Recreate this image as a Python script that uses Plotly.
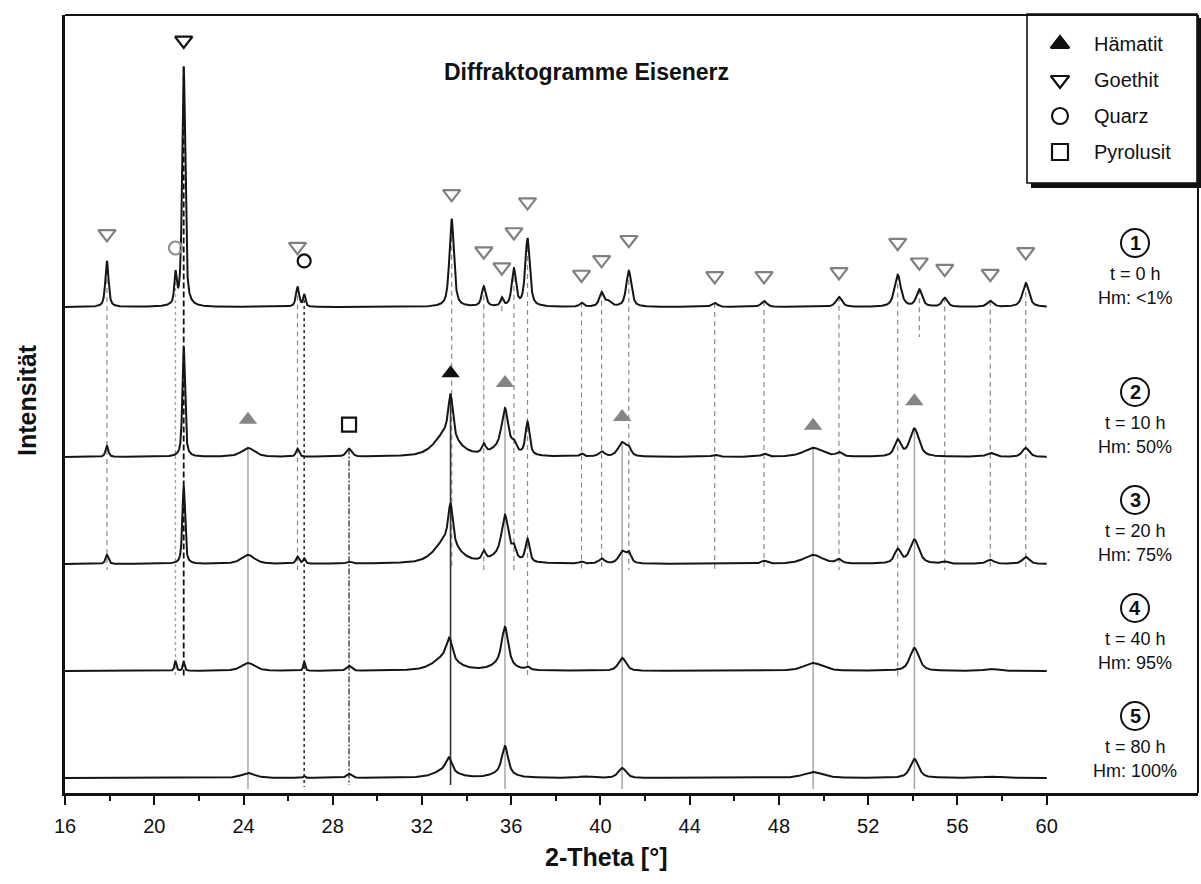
import numpy as np
import plotly.graph_objects as go

# ---------------------------------------------------------------------------
# Reflection lists of the five diffractograms: position (°2θ), height, FWHM (°)
# ---------------------------------------------------------------------------
P1_POS = [17.88, 20.95, 21.32, 26.42, 26.72, 33.33, 34.77, 35.58, 36.12, 36.73, 39.15,
          40.05, 40.35, 41.27, 45.12, 47.33, 50.69, 53.32, 54.29, 55.43, 57.47, 59.06]
P1_INT = [46, 30, 240, 20, 12, 88, 20, 8, 37, 68, 4,
          14, 5, 36, 4, 6, 10, 32, 17, 9, 6, 24]
P1_FWHM = [0.17, 0.12, 0.16, 0.17, 0.12, 0.24, 0.22, 0.15, 0.22, 0.24, 0.2,
           0.24, 0.3, 0.27, 0.3, 0.3, 0.32, 0.34, 0.3, 0.28, 0.32, 0.34]

P2_POS = [17.88, 21.32, 24.20, 26.42, 28.73, 33.10, 33.28, 34.77, 35.60, 35.72, 36.12, 36.73,
          39.15, 40.05, 40.97, 41.27, 45.12, 47.33, 49.53, 50.69, 53.32, 54.07, 57.47, 59.06]
P2_INT = [11, 110, 9, 8, 8, 24, 40, 9, 9, 39, 8, 33,
          3, 5, 14, 7, 2, 3, 9, 4, 16, 28, 4, 9]
P2_FWHM = [0.15, 0.14, 0.7, 0.16, 0.28, 1.2, 0.24, 0.2, 1.0, 0.34, 0.22, 0.22,
           0.2, 0.3, 0.42, 0.25, 0.3, 0.3, 1.0, 0.3, 0.34, 0.48, 0.4, 0.36]

P3_POS = [17.88, 21.32, 24.20, 26.42, 26.72, 28.73, 33.10, 33.28, 34.77, 35.60, 35.72, 36.12,
          36.73, 39.15, 40.05, 40.97, 41.27, 47.33, 49.53, 50.69, 53.32, 54.07, 55.43, 57.47, 59.06]
P3_INT = [9, 78, 9, 7, 5, 2, 24, 38, 9, 9, 39, 11,
          23, 2, 5, 12, 10, 3, 9, 4, 14, 24, 2, 4, 7]
P3_FWHM = [0.15, 0.14, 0.7, 0.16, 0.12, 0.28, 1.2, 0.24, 0.2, 1.0, 0.34, 0.22,
           0.22, 0.2, 0.3, 0.36, 0.25, 0.3, 1.0, 0.3, 0.34, 0.48, 0.3, 0.4, 0.36]

P4_POS = [20.95, 21.32, 24.20, 26.72, 28.73, 33.05, 33.22, 35.60, 35.72, 36.73, 40.97, 49.53, 54.07, 57.47]
P4_INT = [10, 9, 8, 9, 5, 14, 20, 7, 37, 3, 13, 8, 23, 2]
P4_FWHM = [0.1, 0.1, 0.7, 0.1, 0.25, 1.2, 0.3, 1.0, 0.34, 0.2, 0.4, 1.0, 0.48, 0.6]

P5_POS = [24.20, 26.72, 28.73, 33.05, 33.20, 35.60, 35.72, 39.30, 40.97, 49.53, 54.07, 57.50]
P5_INT = [5, 2, 4, 8, 13, 5, 27, 1.5, 10, 6, 19, 1.5]
P5_FWHM = [0.7, 0.1, 0.25, 1.1, 0.3, 1.0, 0.32, 0.6, 0.4, 1.0, 0.45, 0.8]

# vertical stacking of the patterns (baseline of each curve)
OFFSETS = [486, 336, 229, 122, 15]

# sample labels on the right
SAMPLE_NO = ["1", "2", "3", "4", "5"]
SAMPLE_TIME = ["t = 0 h", "t = 10 h", "t = 20 h", "t = 40 h", "t = 80 h"]
SAMPLE_HM = ["Hm: <1%", "Hm: 50%", "Hm: 75%", "Hm: 95%", "Hm: 100%"]

# phase assignments
GOE_POS = [17.88, 21.32, 26.42, 33.33, 34.77, 35.58, 36.12, 36.73, 39.15, 40.05,
           41.27, 45.12, 47.33, 50.69, 53.32, 54.29, 55.43, 57.47, 59.06]
QTZ_POS = [20.95, 26.72]
HEM_POS = [24.20, 33.28, 35.72, 40.97, 49.53, 54.07]
PYR_POS = [28.73]

LEGEND_NAMES = ["Hämatit", "Goethit", "Quarz", "Pyrolusit"]

TICKS_MAJOR = list(range(16, 61, 4))
TICKS_MINOR = list(range(18, 60, 4))

FONT = "Liberation Sans, Arial, sans-serif"

# ---------------------------------------------------------------------------
X0, X1 = 16.0, 66.78
PX_L, PX_R, PX_T, PX_B = 65, 1198, 15, 793
Y1 = PX_B - PX_T


def px_to_paper_x(px):
    return (px - PX_L) / (PX_R - PX_L)


def py_to_paper_y(py):
    return (PX_B - py) / (PX_B - PX_T)


def pattern(x, pos, inten, fwhm, eta=0.65):
    y = np.zeros_like(x)
    for c, a, w in zip(pos, inten, fwhm):
        u = (x - c) / w
        y += a * (eta / (1 + 4 * u * u) + (1 - eta) * np.exp(-4 * np.log(2) * u * u))
    return y


x = np.arange(16.0, 60.0001, 0.005)
patterns = [
    (P1_POS, P1_INT, P1_FWHM),
    (P2_POS, P2_INT, P2_FWHM),
    (P3_POS, P3_INT, P3_FWHM),
    (P4_POS, P4_INT, P4_FWHM),
    (P5_POS, P5_INT, P5_FWHM),
]
curves = [OFFSETS[i] + pattern(x, *p) for i, p in enumerate(patterns)]


def top(i, pos):
    m = np.abs(x - pos) < 0.12
    return float(curves[i][m].max())


fig = go.Figure()
shapes = []
annotations = []


def vline(xv, y0, y1, color, width, dash):
    shapes.append(dict(type="line", xref="x", yref="y", x0=xv, x1=xv, y0=y0, y1=y1,
                       line=dict(color=color, width=width, dash=dash), layer="below"))


row3_end = OFFSETS[2] - 6
row4_end = OFFSETS[3] - 6
bottom_end = 4

# goethite reference lines (dashed)
goe_end = [row3_end, row4_end, row3_end, row3_end, row3_end, OFFSETS[0] - 8, row3_end, row4_end,
           row3_end, row3_end, row3_end, row3_end, row3_end, row3_end, row4_end, OFFSETS[0] - 30,
           row3_end, row3_end, row3_end]
for p, e in zip(GOE_POS, goe_end):
    if p == 21.32:
        vline(p, top(0, p), e, "#111111", 1.8, "6px,3px")
    else:
        vline(p, top(0, p), e, "#8a8a8a", 1.2, "5px,4px")

# quartz reference lines (dotted)
vline(QTZ_POS[0], top(0, QTZ_POS[0]), row4_end, "#a0a0a0", 1.4, "dot")
vline(QTZ_POS[1], top(0, QTZ_POS[1]), bottom_end + 2, "#333333", 1.6, "dot")

# pyrolusite reference line (dash-dot)
vline(PYR_POS[0], top(1, PYR_POS[0]), bottom_end + 4, "#555555", 1.6, "6px,2px,2px,2px")

# hematite reference lines (solid)
for p in HEM_POS:
    if p == 33.28:
        vline(p, top(1, p), bottom_end + 4, "#333333", 1.6, "solid")
    else:
        vline(p, top(1, p), bottom_end, "#a6a6a6", 1.5, "solid")

# frame (top and right side)
shapes.append(dict(type="line", xref="paper", yref="paper", x0=0, x1=1, y0=1, y1=1,
                   line=dict(color="#111111", width=2)))
shapes.append(dict(type="line", xref="paper", yref="paper", x0=1, x1=1, y0=0, y1=1,
                   line=dict(color="#111111", width=2)))

# legend box with drop shadow (kept beneath the legend symbols)
shapes.append(dict(type="rect", xref="paper", yref="paper",
                   x0=px_to_paper_x(1031), x1=px_to_paper_x(1203),
                   y0=py_to_paper_y(188), y1=py_to_paper_y(18),
                   fillcolor="#111111", line=dict(width=0), layer="below"))
shapes.append(dict(type="rect", xref="paper", yref="paper",
                   x0=px_to_paper_x(1027), x1=px_to_paper_x(1197),
                   y0=py_to_paper_y(183), y1=py_to_paper_y(14),
                   fillcolor="white", line=dict(color="#111111", width=1.6), layer="below"))

# diffractograms
for c in curves:
    fig.add_trace(go.Scatter(x=x, y=c, mode="lines", line=dict(color="#151515", width=2),
                             hoverinfo="skip", showlegend=False))

# phase markers above the peaks (lift in plot units above the peak maximum)
goe_lift = [27, 26, 40, 25, 35, 30, 36, 36, 28, 32, 31, 27, 25, 25, 32, 27, 29, 27, 31]
goe_col = ["#111111" if p == 21.32 else "#808080" for p in GOE_POS]
fig.add_trace(go.Scatter(
    x=GOE_POS, y=[top(0, p) + l for p, l in zip(GOE_POS, goe_lift)], mode="markers",
    marker=dict(symbol="triangle-down-open", size=15, color=goe_col, line=dict(width=2.2, color=goe_col)),
    showlegend=False, hoverinfo="skip", cliponaxis=False))

qtz_lift = [22, 33]
qtz_col = ["#909090", "#111111"]
fig.add_trace(go.Scatter(
    x=QTZ_POS, y=[top(0, p) + l for p, l in zip(QTZ_POS, qtz_lift)], mode="markers",
    marker=dict(symbol="circle-open", size=13, color=qtz_col, line=dict(width=2.2, color=qtz_col)),
    showlegend=False, hoverinfo="skip"))

hem_lift = [28, 21, 25, 25, 22, 27]
hem_col = ["#111111" if p == 33.28 else "#858585" for p in HEM_POS]
fig.add_trace(go.Scatter(
    x=HEM_POS, y=[top(1, p) + l for p, l in zip(HEM_POS, hem_lift)], mode="markers",
    marker=dict(symbol="triangle-up", size=16, color=hem_col, line=dict(width=0)),
    showlegend=False, hoverinfo="skip"))

fig.add_trace(go.Scatter(
    x=PYR_POS, y=[top(1, PYR_POS[0]) + 24], mode="markers",
    marker=dict(symbol="square-open", size=14, color="#111111", line=dict(width=2.2, color="#111111")),
    showlegend=False, hoverinfo="skip"))

leg_rows = [44, 80, 116, 152]
leg_sym = ["triangle-up", "triangle-down-open", "circle-open", "square-open"]
leg_x = X0 + (1060 - PX_L) / (PX_R - PX_L) * (X1 - X0)
for nm, sym, py in zip(LEGEND_NAMES, leg_sym, leg_rows):
    fig.add_trace(go.Scatter(
        x=[leg_x], y=[PX_B - py], mode="markers",
        marker=dict(symbol=sym, size=16, color="#111111", line=dict(width=2.2, color="#111111")),
        showlegend=False, hoverinfo="skip", cliponaxis=False))
    annotations.append(dict(text=nm, xref="paper", yref="paper", x=px_to_paper_x(1092),
                            y=py_to_paper_y(py), xanchor="left", yanchor="middle", showarrow=False,
                            font=dict(family=FONT, size=20, color="#111111")))

# sample labels
lab_x = 1135
lab_rows = [243, 392, 500, 608, 716]
for i, py in enumerate(lab_rows):
    r = 14
    shapes.append(dict(type="circle", xref="paper", yref="paper",
                       x0=px_to_paper_x(lab_x - r), x1=px_to_paper_x(lab_x + r),
                       y0=py_to_paper_y(py + r), y1=py_to_paper_y(py - r),
                       line=dict(color="#111111", width=2)))
    annotations.append(dict(text="<b>%s</b>" % SAMPLE_NO[i], xref="paper", yref="paper",
                            x=px_to_paper_x(lab_x), y=py_to_paper_y(py), xanchor="center",
                            yanchor="middle", showarrow=False,
                            font=dict(family=FONT, size=20, color="#111111")))
    annotations.append(dict(text=SAMPLE_TIME[i], xref="paper", yref="paper",
                            x=px_to_paper_x(lab_x), y=py_to_paper_y(py + 31), xanchor="center",
                            yanchor="middle", showarrow=False,
                            font=dict(family=FONT, size=18, color="#111111")))
    annotations.append(dict(text=SAMPLE_HM[i], xref="paper", yref="paper",
                            x=px_to_paper_x(lab_x), y=py_to_paper_y(py + 55), xanchor="center",
                            yanchor="middle", showarrow=False,
                            font=dict(family=FONT, size=18, color="#111111")))

# titles
annotations.append(dict(text="<b>Diffraktogramme Eisenerz</b>", xref="paper", yref="paper",
                        x=px_to_paper_x(586), y=py_to_paper_y(72), xanchor="center",
                        yanchor="middle", showarrow=False,
                        font=dict(family=FONT, size=23, color="#111111")))
annotations.append(dict(text="<b>2-Theta [°]</b>", xref="paper", yref="paper",
                        x=px_to_paper_x(606), y=py_to_paper_y(857), xanchor="center",
                        yanchor="middle", showarrow=False,
                        font=dict(family=FONT, size=25, color="#111111")))
annotations.append(dict(text="<b>Intensität</b>", xref="paper", yref="paper",
                        x=px_to_paper_x(27), y=py_to_paper_y(400), xanchor="center",
                        yanchor="middle", textangle=-90, showarrow=False,
                        font=dict(family=FONT, size=25, color="#111111")))

fig.update_layout(
    width=1201, height=884,
    margin=dict(l=PX_L, r=1201 - PX_R, t=PX_T, b=884 - PX_B),
    paper_bgcolor="white", plot_bgcolor="white",
    showlegend=False,
    shapes=shapes, annotations=annotations,
    xaxis=dict(range=[X0, X1], showgrid=False, zeroline=False,
               showline=True, linecolor="#111111", linewidth=3,
               tickmode="array", tickvals=TICKS_MAJOR, ticktext=[str(t) for t in TICKS_MAJOR],
               ticks="outside", ticklen=9, tickwidth=2, tickcolor="#111111",
               ticklabelstandoff=4,
               tickfont=dict(family=FONT, size=20, color="#111111"),
               minor=dict(tickmode="array", tickvals=TICKS_MINOR, ticks="outside",
                          ticklen=5, tickwidth=2, tickcolor="#111111")),
    yaxis=dict(range=[0, Y1], showgrid=False, zeroline=False, showticklabels=False,
               showline=True, linecolor="#111111", linewidth=3, ticks=""),
)

fig.write_html("out.html")
